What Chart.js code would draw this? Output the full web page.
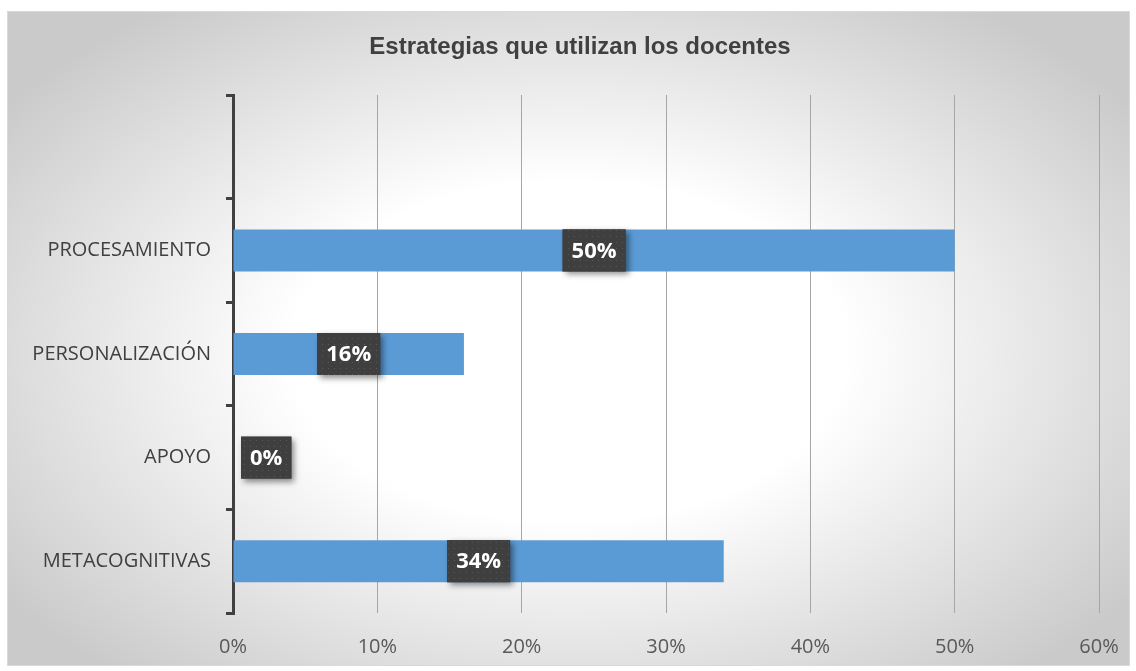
<!DOCTYPE html>
<html lang="es">
<head>
    <meta charset="UTF-8">
    <title>Estrategias que utilizan los docentes</title>
    <style>
        body {
            margin: 0;
            background: #fff;
            width: 1136px;
            height: 671px;
            overflow: hidden;
        }

        .chart-box {
            position: absolute;
            left: 7px;
            top: 11px;
            width: 1121px;
            height: 653px;
            border: 1px solid #d9d9d9;
            background: radial-gradient(ellipse 62% 65% at 50% 52%, #ffffff 40%, #cacaca 100%);
        }
    </style>
    <script src="https://cdn.jsdelivr.net/npm/chart.js"></script>
</head>
<body>

    <div class="chart-box">
        <canvas id="chart" width="1121" height="653"></canvas>
    </div>

    <script>
        var title = 'Estrategias que utilizan los docentes';
        var categories = ['', 'PROCESAMIENTO', 'PERSONALIZACIÓN', 'APOYO', 'METACOGNITIVAS'];
        var values = [null, 50, 16, 0, 34];
        var xTicks = [0, 10, 20, 30, 40, 50, 60];

        // small dotted fill for the label boxes
        function makePattern(ctx) {
            var p = document.createElement('canvas');
            p.width = 6;
            p.height = 6;
            var pc = p.getContext('2d');
            pc.fillStyle = '#3f3f3f';
            pc.fillRect(0, 0, 6, 6);
            pc.fillStyle = '#585858';
            pc.fillRect(2, 2, 1, 1);
            return ctx.createPattern(p, 'repeat');
        }

        var titlePlugin = {
            id: 'titleText',
            afterDraw: function (chart) {
                var ctx = chart.ctx;
                ctx.save();
                ctx.font = 'bold 24px "Liberation Sans", Arial, sans-serif';
                ctx.fillStyle = '#404040';
                ctx.textAlign = 'center';
                ctx.textBaseline = 'middle';
                ctx.fillText(title, 572, 35);
                ctx.restore();
            }
        };

        var boxLabels = {
            id: 'boxLabels',
            afterDatasetsDraw: function (chart) {
                var ctx = chart.ctx;
                var meta = chart.getDatasetMeta(0);
                var pattern = makePattern(ctx);
                ctx.save();
                ctx.font = 'bold 22px "Open Sans", sans-serif';
                meta.data.forEach(function (bar, i) {
                    var v = values[i];
                    if (v === null) return;
                    var text = v + '%';
                    var w = ctx.measureText(text).width + 18;
                    var h = bar.height;
                    var cx = (bar.x + bar.base) / 2;
                    var left = Math.max(cx - w / 2, bar.base + 8);
                    var top = bar.y - h / 2;
                    ctx.save();
                    ctx.shadowColor = 'rgba(0,0,0,0.45)';
                    ctx.shadowBlur = 6;
                    ctx.shadowOffsetX = 3;
                    ctx.shadowOffsetY = 3;
                    ctx.fillStyle = '#404040';
                    ctx.fillRect(left, top, w, h);
                    ctx.restore();
                    ctx.fillStyle = pattern;
                    ctx.fillRect(left, top, w, h);
                    ctx.fillStyle = '#ffffff';
                    ctx.textAlign = 'center';
                    ctx.textBaseline = 'middle';
                    ctx.fillText(text, left + w / 2, bar.y + 1);
                });
                ctx.restore();
            }
        };

        var ctx = document.getElementById('chart').getContext('2d');
        var chart = new Chart(ctx, {
            type: 'bar',
            data: {
                labels: categories,
                datasets: [{
                    data: values,
                    backgroundColor: '#5b9bd5',
                    borderWidth: 0,
                    barPercentage: 0.405,
                    categoryPercentage: 1
                }]
            },
            options: {
                indexAxis: 'y',
                responsive: false,
                animation: false,
                layout: {
                    padding: { left: 0, right: 30, top: 83, bottom: 0 }
                },
                plugins: {
                    legend: { display: false },
                    tooltip: { enabled: false }
                },
                scales: {
                    x: {
                        min: 0,
                        max: 60,
                        afterBuildTicks: function (scale) {
                            scale.ticks = xTicks.map(function (v) { return { value: v }; });
                        },
                        afterFit: function (scale) {
                            scale.height = 52;
                            scale.paddingLeft = 0;
                            scale.paddingRight = 0;
                        },
                        ticks: {
                            callback: function (v) { return v + '%'; },
                            color: '#595959',
                            font: { family: '"Open Sans", sans-serif', size: 20 },
                            padding: 22
                        },
                        grid: {
                            color: '#a6a6a6',
                            lineWidth: 1,
                            drawTicks: false
                        },
                        border: { display: false }
                    },
                    y: {
                        afterFit: function (scale) {
                            scale.width = 225;
                        },
                        ticks: {
                            color: '#404040',
                            font: { family: '"Open Sans", sans-serif', size: 20 },
                            padding: 15
                        },
                        grid: {
                            offset: true,
                            drawOnChartArea: false,
                            color: '#404040',
                            lineWidth: 3,
                            tickLength: 7
                        },
                        border: { display: true, color: '#404040', width: 3 }
                    }
                }
            },
            plugins: [titlePlugin, boxLabels]
        });
    </script>

</body>
</html>
